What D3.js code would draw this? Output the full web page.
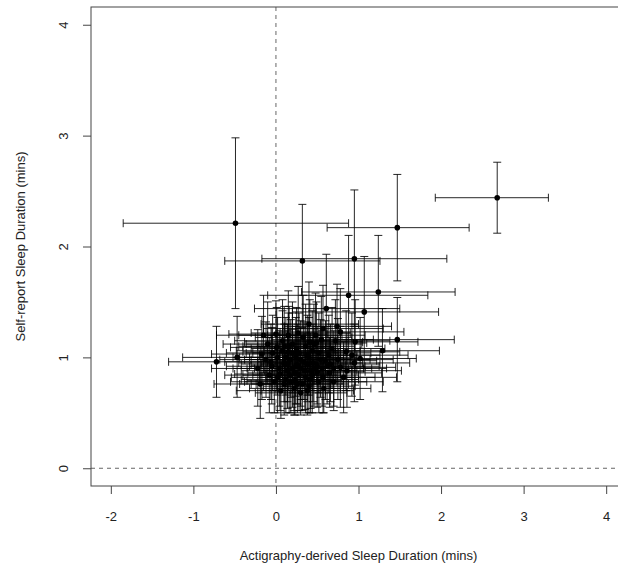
<!DOCTYPE html>
<meta charset="UTF-8">
<style>
    body { margin: 0; background: #fff; }
    text { font-family: "Liberation Sans", Arial, sans-serif; fill: #222; }
    .bar { stroke: #000; stroke-width: 1; stroke-opacity: 0.85; fill: none; }
    .ref { stroke: #666; stroke-width: 1; stroke-dasharray: 4,4; }
</style>
<body>
<div id="chart"></div>
<script src="https://d3js.org/d3.v7.min.js"></script>
<script>
    // actigraphy-derived estimate (x) with interval
    var actX  = [2.68, -0.49, 1.47, 0.32, 0.95, 0.88, 1.24, 0.61, 1.07, 1.47,
                 1.29, 0.96, -0.72, -0.47, 0.57, 0.78, 0.00, 0.15, 0.27, 0.49,
                 0.41, 0.01, -0.17, 0.92, 1.02, 0.78, -0.19, 0.23, 0.57, 0.10,
                 0.20, 0.30, 0.35, 0.45, 0.05, -0.05, 0.15, 0.25, 0.38, 0.52,
                 0.60, 0.68, 0.12, 0.28, 0.42, 0.50, 0.65, -0.10, 0.08, 0.33,
                 0.22, 0.40, 0.70, -0.02, 0.18, 0.55, 0.85, 0.75, -0.22, -0.12,
                 0.02, 0.26, 0.46, 0.36, 0.62, 0.14, 0.86, 0.72, 0.48, 0.06,
                 0.30, 0.58, 0.95, 0.20, 0.44, -0.08, 0.10, 0.32, 0.66, 0.82,
                 0.24, 0.38, 0.54, 0.16, -0.15, 0.74, 0.40, 0.04, 0.12, 0.22,
                 0.34, 0.44, 0.28, 0.18, 0.08, -0.04, 0.50, 0.36, 0.26, 0.14,
                 0.40, 0.56, 0.64, 0.02, 0.30, 0.46, 0.20, 0.10, 0.38, 0.52,
                 -0.06, 0.70, 0.24, 0.16, 0.42];
    var actLo = [1.93, -1.85, 0.62, -0.62, -0.17, -0.10, 0.31, -0.26, 0.20, 0.75,
                 0.62, 0.20, -1.30, -1.13, -0.15, 0.05, -0.57, -0.45, -0.30, -0.10,
                 -0.38, -0.55, -0.78, 0.25, 0.35, 0.10, -0.75, -0.35, -0.05, -0.45,
                 -0.35, -0.30, -0.20, -0.15, -0.50, -0.60, -0.40, -0.30, -0.20, -0.10,
                 0.00, 0.05, -0.42, -0.28, -0.12, -0.08, 0.05, -0.64, -0.50, -0.25,
                 -0.32, -0.15, 0.10, -0.55, -0.38, -0.05, 0.20, 0.10, -0.78, -0.68,
                 -0.52, -0.30, -0.12, -0.22, 0.00, -0.42, 0.22, 0.08, -0.10, -0.48,
                 -0.25, 0.00, 0.30, -0.36, -0.14, -0.62, -0.45, -0.24, 0.06, 0.18,
                 -0.32, -0.18, -0.06, -0.40, -0.72, 0.10, -0.18, -0.52, -0.44, -0.34,
                 -0.22, -0.12, -0.28, -0.38, -0.48, -0.60, -0.08, -0.20, -0.30, -0.42,
                 -0.16, -0.04, 0.04, -0.54, -0.26, -0.10, -0.36, -0.44, -0.18, -0.06,
                 -0.62, 0.08, -0.32, -0.40, -0.14];
    var actHi = [3.30, 0.88, 2.34, 1.26, 2.07, 1.84, 2.17, 1.50, 1.97, 2.16,
                 1.98, 1.72, -0.10, 0.20, 1.30, 1.55, 0.62, 0.80, 0.90, 1.10,
                 1.05, 0.60, 0.40, 1.60, 1.70, 1.45, 0.35, 0.80, 1.20, 0.65,
                 0.78, 0.90, 0.92, 1.05, 0.62, 0.50, 0.72, 0.82, 0.98, 1.15,
                 1.22, 1.32, 0.68, 0.85, 1.00, 1.08, 1.28, 0.45, 0.66, 0.92,
                 0.78, 0.96, 1.30, 0.50, 0.76, 1.18, 1.50, 1.42, 0.32, 0.42,
                 0.58, 0.84, 1.06, 0.95, 1.25, 0.70, 1.52, 1.38, 1.08, 0.60,
                 0.86, 1.15, 1.62, 0.78, 1.02, 0.46, 0.66, 0.88, 1.26, 1.46,
                 0.82, 0.96, 1.14, 0.74, 0.40, 1.40, 1.00, 0.60, 0.68, 0.78,
                 0.90, 1.00, 0.86, 0.74, 0.64, 0.52, 1.08, 0.92, 0.82, 0.70,
                 0.98, 1.16, 1.26, 0.58, 0.88, 1.04, 0.76, 0.66, 0.94, 1.10,
                 0.50, 1.34, 0.80, 0.72, 0.98];

    // self-report estimate (y) with interval
    var selfY  = [2.44, 2.21, 2.17, 1.87, 1.89, 1.56, 1.59, 1.44, 1.41, 1.16,
                  1.06, 1.14, 0.96, 1.00, 1.26, 1.23, 1.21, 1.20, 1.22, 1.13,
                  1.14, 1.09, 1.03, 1.02, 0.99, 0.91, 0.76, 0.79, 0.82, 0.95,
                  0.90, 0.98, 0.88, 0.95, 0.85, 0.92, 1.05, 1.08, 1.02, 1.04,
                  0.97, 1.08, 0.80, 0.84, 0.80, 0.87, 0.86, 1.12, 1.15, 1.18,
                  0.72, 0.74, 0.78, 0.78, 0.98, 1.16, 1.05, 0.98, 0.90, 0.98,
                  1.00, 0.93, 0.90, 1.10, 0.92, 0.88, 0.88, 1.15, 1.20, 0.70,
                  0.68, 0.72, 0.95, 1.12, 1.06, 0.84, 1.10, 0.76, 0.94, 0.82,
                  1.00, 0.94, 0.98, 0.84, 1.20, 1.28, 1.30, 0.90, 1.00, 0.86,
                  0.96, 0.84, 1.04, 0.78, 1.06, 1.04, 0.92, 0.82, 0.76, 0.94,
                  1.00, 0.90, 1.02, 0.82, 0.90, 1.12, 1.04, 0.76, 0.70, 0.78,
                  0.96, 0.90, 0.92, 1.10, 0.88];
    var selfLo = [2.12, 1.44, 1.69, 1.27, 1.28, 1.05, 1.10, 0.98, 0.90, 0.78,
                  0.69, 0.75, 0.64, 0.64, 0.85, 0.82, 0.85, 0.83, 0.86, 0.78,
                  0.75, 0.70, 0.62, 0.65, 0.62, 0.55, 0.45, 0.48, 0.50, 0.60,
                  0.55, 0.62, 0.53, 0.60, 0.52, 0.58, 0.70, 0.72, 0.66, 0.68,
                  0.62, 0.72, 0.50, 0.52, 0.50, 0.55, 0.55, 0.76, 0.80, 0.82,
                  0.48, 0.50, 0.52, 0.50, 0.64, 0.80, 0.70, 0.62, 0.56, 0.64,
                  0.66, 0.58, 0.56, 0.75, 0.58, 0.54, 0.55, 0.78, 0.84, 0.45,
                  0.48, 0.50, 0.60, 0.76, 0.70, 0.50, 0.74, 0.52, 0.60, 0.50,
                  0.65, 0.60, 0.64, 0.50, 0.86, 0.90, 0.92, 0.56, 0.66, 0.52,
                  0.62, 0.50, 0.70, 0.50, 0.72, 0.70, 0.58, 0.50, 0.50, 0.60,
                  0.66, 0.56, 0.68, 0.50, 0.56, 0.76, 0.68, 0.48, 0.48, 0.50,
                  0.62, 0.56, 0.58, 0.74, 0.54];
    var selfHi = [2.76, 2.98, 2.65, 2.38, 2.51, 2.10, 2.10, 1.93, 1.91, 1.54,
                  1.44, 1.52, 1.28, 1.37, 1.65, 1.62, 1.51, 1.60, 1.64, 1.50,
                  1.52, 1.45, 1.37, 1.40, 1.36, 1.28, 1.10, 1.12, 1.15, 1.30,
                  1.25, 1.33, 1.22, 1.30, 1.20, 1.27, 1.40, 1.45, 1.38, 1.40,
                  1.33, 1.45, 1.12, 1.18, 1.12, 1.20, 1.18, 1.50, 1.52, 1.56,
                  0.98, 1.00, 1.06, 1.08, 1.34, 1.55, 1.42, 1.35, 1.25, 1.32,
                  1.36, 1.30, 1.26, 1.48, 1.28, 1.24, 1.22, 1.52, 1.58, 0.95,
                  0.92, 0.98, 1.30, 1.50, 1.42, 1.18, 1.46, 1.02, 1.30, 1.14,
                  1.36, 1.30, 1.34, 1.18, 1.56, 1.66, 1.68, 1.24, 1.36, 1.20,
                  1.32, 1.18, 1.40, 1.08, 1.42, 1.38, 1.28, 1.14, 1.02, 1.30,
                  1.36, 1.24, 1.38, 1.14, 1.26, 1.48, 1.40, 1.04, 0.94, 1.06,
                  1.30, 1.24, 1.28, 1.46, 1.22];

    var xTicks = [-2, -1, 0, 1, 2, 3, 4];
    var yTicks = [0, 1, 2, 3, 4];

    var width = 618, height = 573;
    // plot region, R style: axis limits padded by 4%
    var box = {left: 91, right: 626, top: 7, bottom: 486};

    var x = d3.scaleLinear().domain([-2.24, 4.24]).range([box.left, box.right]);
    var y = d3.scaleLinear().domain([-0.16, 4.16]).range([box.bottom, box.top]);

    var svg = d3.select("#chart").append("svg")
            .attr("width", width)
            .attr("height", height);

    var pts = actX.map(function (d, i) {
        return {x: d, xlo: actLo[i], xhi: actHi[i], y: selfY[i], ylo: selfLo[i], yhi: selfHi[i]};
    });

    // reference lines at zero
    svg.append("line").attr("class", "ref")
            .attr("x1", x(0)).attr("x2", x(0))
            .attr("y1", box.top).attr("y2", box.bottom);
    svg.append("line").attr("class", "ref")
            .attr("x1", box.left).attr("x2", box.right)
            .attr("y1", y(0)).attr("y2", y(0));

    var cap = 4;
    var g = svg.append("g");
    pts.forEach(function (d) {
        var path = d3.path();
        // horizontal interval
        path.moveTo(x(d.xlo), y(d.y)); path.lineTo(x(d.xhi), y(d.y));
        path.moveTo(x(d.xlo), y(d.y) - cap); path.lineTo(x(d.xlo), y(d.y) + cap);
        path.moveTo(x(d.xhi), y(d.y) - cap); path.lineTo(x(d.xhi), y(d.y) + cap);
        // vertical interval
        path.moveTo(x(d.x), y(d.ylo)); path.lineTo(x(d.x), y(d.yhi));
        path.moveTo(x(d.x) - cap, y(d.ylo)); path.lineTo(x(d.x) + cap, y(d.ylo));
        path.moveTo(x(d.x) - cap, y(d.yhi)); path.lineTo(x(d.x) + cap, y(d.yhi));
        g.append("path").attr("class", "bar").attr("d", path.toString());
    });

    svg.append("g").selectAll("circle")
            .data(pts)
            .enter().append("circle")
            .attr("cx", function (d) { return x(d.x); })
            .attr("cy", function (d) { return y(d.y); })
            .attr("r", 2.8)
            .style("fill", "#000");

    // box
    svg.append("rect")
            .attr("x", box.left).attr("y", box.top)
            .attr("width", box.right - box.left).attr("height", box.bottom - box.top)
            .style("fill", "none").style("stroke", "#444");

    var fmt = function (d) { return String(d); };   // plain hyphen minus, like R

    var xAxis = svg.append("g")
            .attr("transform", "translate(0," + box.bottom + ")")
            .call(d3.axisBottom(x).tickValues(xTicks).tickFormat(fmt)
                    .tickSize(8).tickSizeOuter(0).tickPadding(18));
    var yAxis = svg.append("g")
            .attr("transform", "translate(" + box.left + ",0)")
            .call(d3.axisLeft(y).tickValues(yTicks).tickFormat(fmt)
                    .tickSize(8).tickSizeOuter(0).tickPadding(0));

    [xAxis, yAxis].forEach(function (a) {
        a.select(".domain").remove();
        a.selectAll("line").style("stroke", "#444");
        a.selectAll("text").style("font-size", "13px").style("fill", "#222")
                .style("font-family", "'Liberation Sans', Arial, sans-serif");
    });

    // y tick labels are parallel to the axis, as in R
    yAxis.selectAll(".tick text")
            .attr("x", null)
            .attr("text-anchor", "middle")
            .attr("transform", "translate(-28,0) rotate(-90)")
            .attr("dy", "0.35em");

    svg.append("text")
            .attr("x", (box.left + box.right) / 2)
            .attr("y", 560)
            .attr("text-anchor", "middle")
            .style("font-size", "13px")
            .text("Actigraphy-derived Sleep Duration (mins)");

    svg.append("text")
            .attr("transform", "translate(25," + (box.top + box.bottom) / 2 + ") rotate(-90)")
            .attr("text-anchor", "middle")
            .style("font-size", "13px")
            .text("Self-report Sleep Duration (mins)");
</script>
</body>
